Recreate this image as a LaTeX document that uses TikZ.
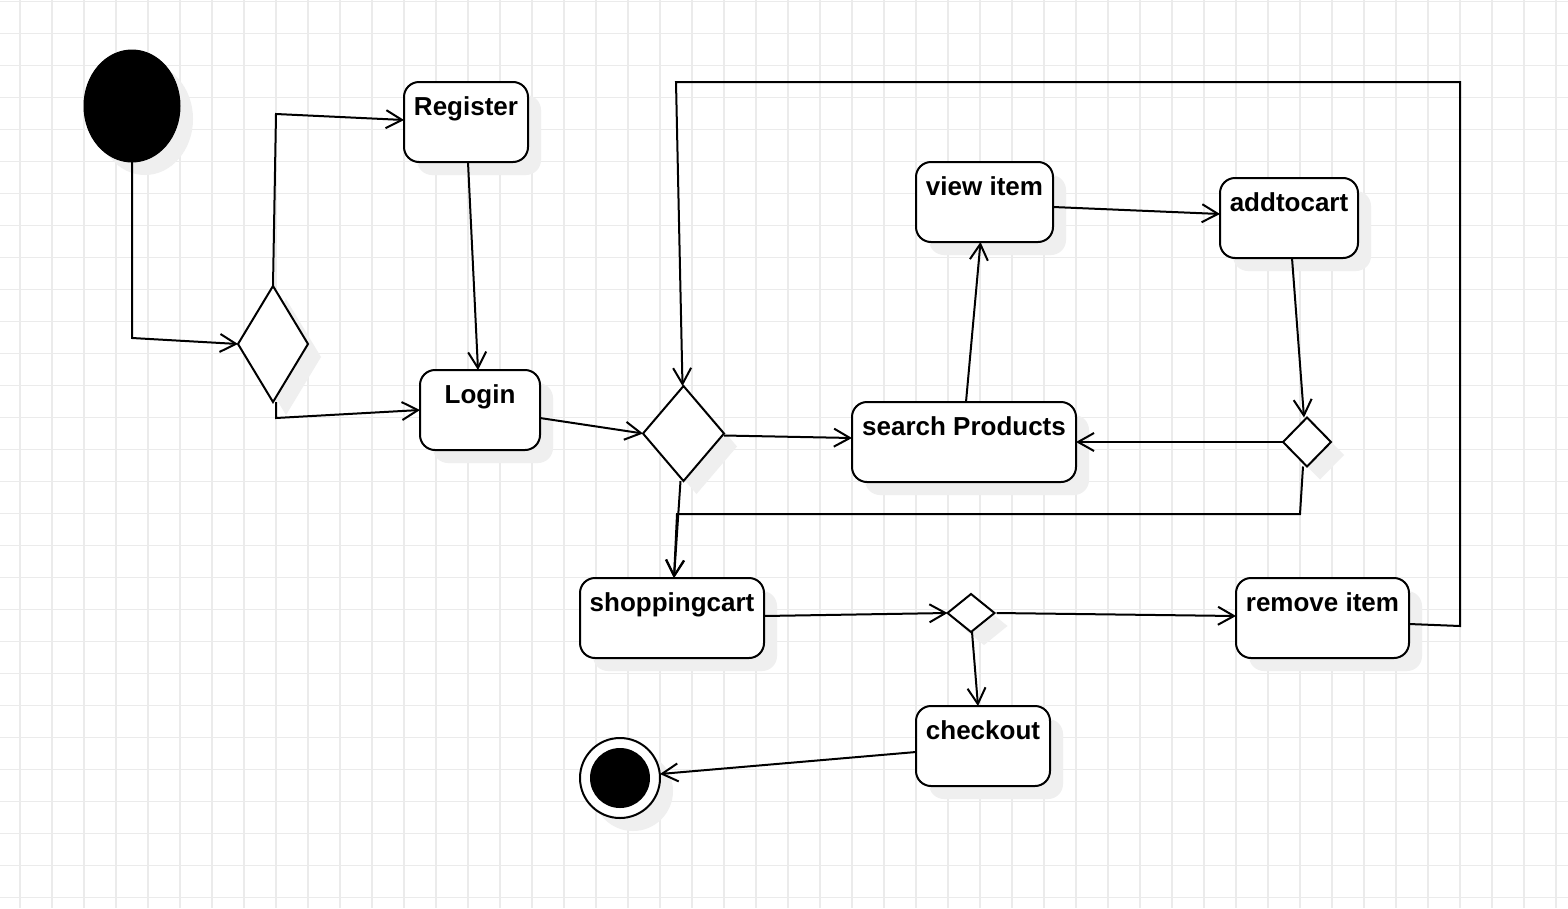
\documentclass[tikz,border=0pt]{standalone}
\usepackage{fontspec}
\setmainfont{Liberation Sans}
\usetikzlibrary{shapes.geometric,arrows.meta,shadows}
\definecolor{gridc}{HTML}{EBEBEB}
\definecolor{shad}{HTML}{EFEFEF}
\begin{document}
\begin{tikzpicture}[x=1pt,y=-1pt,
  every node/.style={inner sep=0pt, outer sep=0pt},
  sh/.style={general shadow={fill=shad, shadow xshift=13pt, shadow yshift=-13pt}},
  box/.style={draw, line width=2pt, rounded corners=15pt, fill=white, sh},
  dia/.style={diamond, draw, line width=2pt, fill=white, sh},
  lbl/.style={font=\fontsize{26}{30}\selectfont\bfseries, anchor=base},
  arr/.style={line width=2pt, -{Straight Barb[length=16pt,width=18pt]}},
  ln/.style={line width=2pt}
]
\useasboundingbox (0,0) rectangle (1568,908);
\fill[white] (0,0) rectangle (1568,908);
\foreach \i in {0,...,48} \draw[gridc, line width=1.5pt] (20+32*\i,0) -- (20+32*\i,908);
\foreach \j in {0,...,28} \draw[gridc, line width=1.5pt] (0,1.5+32*\j) -- (1568,1.5+32*\j);

% start / end
\node[ellipse, draw, fill=black, line width=1pt, minimum width=96pt, minimum height=112pt, sh] (start) at (132,106) {};
\node[circle, draw, line width=2pt, fill=white, minimum size=80pt, sh] (end) at (620,778) {};
\node[circle, fill=black, minimum size=60pt] (endin) at (620,778) {};

% boxes
\node[box, minimum width=124pt, minimum height=80pt] (reg) at (466,122) {};
\node[lbl] (regt) at ([yshift=-33pt]reg.north) {Register};
\node[box, minimum width=120pt, minimum height=80pt] (login) at (480,410) {};
\node[lbl] (logint) at ([yshift=-33pt]login.north) {Login};
\node[box, minimum width=137pt, minimum height=80pt] (view) at (984.5,202) {};
\node[lbl] (viewt) at ([yshift=-33pt]view.north) {view item};
\node[box, minimum width=138pt, minimum height=80pt] (add) at (1289,218) {};
\node[lbl] (addt) at ([yshift=-33pt]add.north) {addtocart};
\node[box, minimum width=224pt, minimum height=80pt] (sp) at (964,442) {};
\node[lbl] (spt) at ([yshift=-33pt]sp.north) {search Products};
\node[box, minimum width=184pt, minimum height=80pt] (shop) at (672,618) {};
\node[lbl] (shopt) at ([yshift=-33pt]shop.north) {shoppingcart};
\node[box, minimum width=173pt, minimum height=80pt] (rem) at (1322.5,618) {};
\node[lbl] (remt) at ([yshift=-33pt]rem.north) {remove item};
\node[box, minimum width=134pt, minimum height=80pt] (check) at (983,746) {};
\node[lbl] (checkt) at ([yshift=-33pt]check.north) {checkout};

% diamonds
\node[dia, minimum width=70pt, minimum height=116pt] (d1) at (273,344) {};
\node[dia, minimum width=81pt, minimum height=95pt] (d2) at (683.5,433.5) {};
\node[dia, minimum width=48pt, minimum height=49pt] (d3) at (1307,442) {};
\node[dia, minimum width=47pt, minimum height=38pt] (d4) at (971,613) {};

% connectors
\draw[arr] (start.south) -- (132,338) -- (d1.west);
\draw[arr] (d1.north) -- (276,114) -- ([yshift=2pt]reg.west);
\draw[arr] ([xshift=3pt]d1.south) -- (276,418) -- (login.west);
\draw[arr] ([xshift=2pt]reg.south) -- ([xshift=-2pt]login.north);
\draw[arr] ([yshift=-8pt]login.east) -- (d2.west);
\draw[arr] ([yshift=-2pt]d2.east) -- ([yshift=4pt]sp.west);
\draw[arr] ([xshift=2pt]sp.north) -- ([xshift=-4pt]view.south);
\draw[arr] ([yshift=-5pt]view.east) -- ([yshift=4pt]add.west);
\draw[arr] ([xshift=3pt]add.south) -- ([xshift=-3pt]d3.north);
\draw[arr] (d3.west) -- (sp.east);
\draw[arr] ([xshift=-4pt]d3.south) -- (1300,514) -- (677,514) -- ([xshift=2pt]shop.north);
\draw[arr] ([xshift=-3pt]d2.south) -- ([xshift=2pt]shop.north);
\draw[arr] ([yshift=-6pt]rem.east) -- (1460,626) -- (1460,82) -- (676,82) -- ([xshift=-1pt]d2.north);
\draw[arr] ([yshift=2pt]shop.east) -- (d4.west);
\draw[arr] ([xshift=2pt]d4.east) -- ([yshift=2pt]rem.west);
\draw[arr] ([xshift=1pt]d4.south) -- ([xshift=-5pt]check.north);
\draw[arr] ([yshift=-6pt]check.west) -- ([yshift=4pt]end.east);
\end{tikzpicture}
\end{document}
